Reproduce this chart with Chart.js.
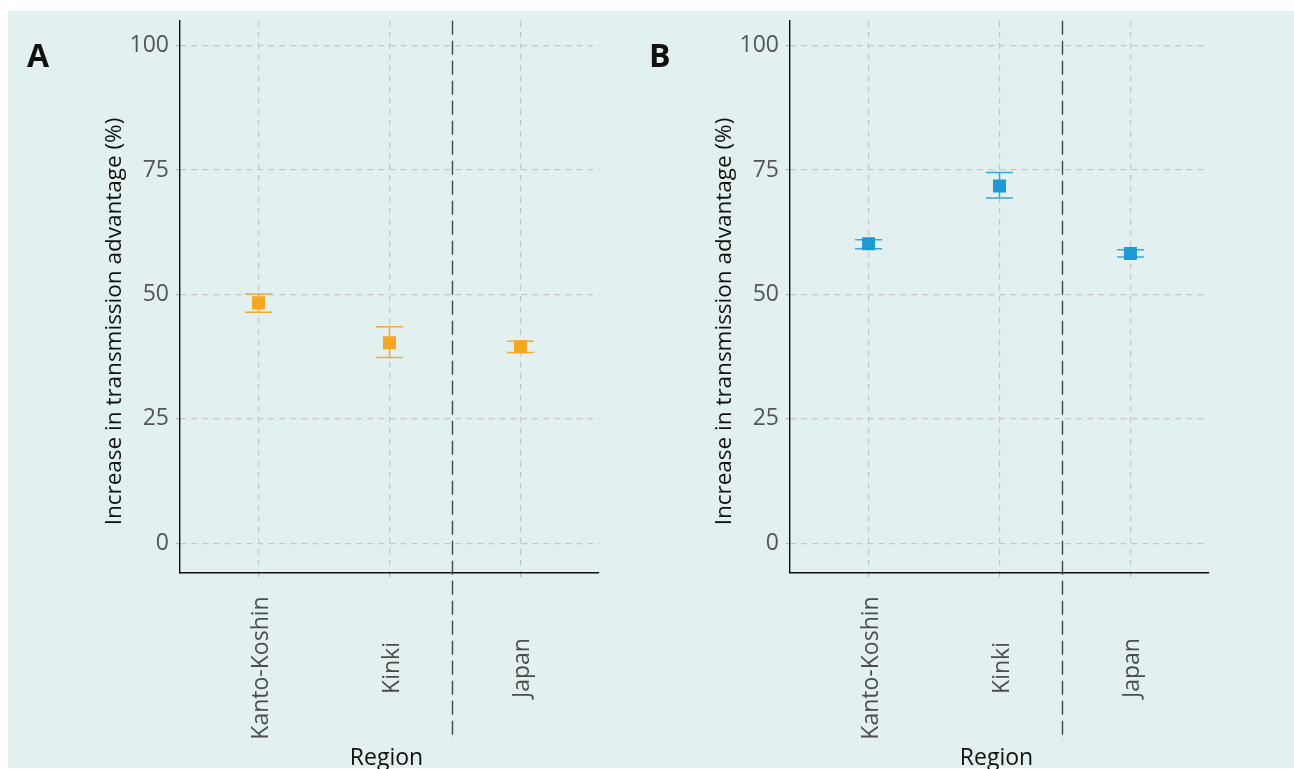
<!DOCTYPE html>
<html>
<head>
<meta charset="utf-8">
<script src="https://cdn.jsdelivr.net/npm/chart.js@4"></script>
<style>
    body { margin: 0; background: #fff; width: 1294px; height: 769px; position: relative; overflow: hidden; }
    #bg { position: absolute; left: 8px; top: 11px; width: 1286px; height: 757px; background: #e3f0f0; }
    .panel { position: absolute; top: 0; }
    #panelA { left: 0; }
    #panelB { left: 610px; }
</style>
</head>
<body>
<div id="bg"></div>
<canvas id="panelA" class="panel" width="610" height="769"></canvas>
<canvas id="panelB" class="panel" width="610" height="769"></canvas>
<script>
// Data
const regions = ['Kanto-Koshin', 'Kinki', 'Japan'];
const regionPos = [1, 2, 3];
const yTicks = [0, 25, 50, 75, 100];
const splitAt = 2.48; // dashed line between regions and whole country

// Panel A
const meanA = [48.3, 40.3, 39.5];
const lowA = [46.4, 37.3, 38.3];
const highA = [50.1, 43.5, 40.6];

// Panel B
const meanB = [60.2, 71.8, 58.2];
const lowB = [59.2, 69.4, 57.5];
const highB = [61.0, 74.5, 59.0];

const FONT = "'Open Sans', 'Noto Sans', sans-serif";

// error bars, separator line, rotated labels, titles
const panelExtras = {
    id: 'panelExtras',
    beforeDatasetsDraw(chart, args, opts) {
        const { ctx, scales: { x, y } } = chart;
        ctx.save();
        ctx.strokeStyle = opts.barColor;
        ctx.lineWidth = 1.5;
        opts.low.forEach((lo, i) => {
            const px = x.getPixelForValue(regionPos[i]);
            const y1 = y.getPixelForValue(lo);
            const y2 = y.getPixelForValue(opts.high[i]);
            ctx.beginPath();
            ctx.moveTo(px, y1); ctx.lineTo(px, y2);
            ctx.moveTo(px - 13.5, y1); ctx.lineTo(px + 13.5, y1);
            ctx.moveTo(px - 13.5, y2); ctx.lineTo(px + 13.5, y2);
            ctx.stroke();
        });
        ctx.restore();
    },
    afterDraw(chart, args, opts) {
        const { ctx, chartArea, scales: { x } } = chart;
        ctx.save();

        // separator
        const sx = Math.round(x.getPixelForValue(splitAt)) + 0.5;
        ctx.strokeStyle = '#444';
        ctx.lineWidth = 1.4;
        ctx.setLineDash([14, 6]);
        ctx.beginPath();
        ctx.moveTo(sx, chartArea.top);
        ctx.lineTo(sx, 741);
        ctx.stroke();
        ctx.setLineDash([]);

        // category labels
        ctx.fillStyle = '#4d4d4d';
        ctx.font = '23px ' + FONT;
        ctx.textAlign = 'center';
        ctx.textBaseline = 'alphabetic';
        regions.forEach((name, i) => {
            const px = x.getPixelForValue(regionPos[i]);
            ctx.save();
            ctx.translate(px + 9, 668);
            ctx.rotate(-Math.PI / 2);
            ctx.fillText(name, 0, 0);
            ctx.restore();
        });

        // axis titles
        ctx.fillStyle = '#111';
        ctx.font = '23px ' + FONT;
        ctx.fillText('Region', (chartArea.left + chartArea.right) / 2 - 3, 765);

        ctx.font = '22.5px ' + FONT;
        ctx.save();
        ctx.translate(121, 321.5);
        ctx.rotate(-Math.PI / 2);
        ctx.fillText('Increase in transmission advantage (%)', 0, 0);
        ctx.restore();

        // panel letter
        ctx.textAlign = 'left';
        ctx.font = 'bold 32px ' + FONT;
        ctx.fillText(opts.letter, opts.letterX, 67);

        ctx.restore();
    }
};

function makePanel(id, letter, letterX, means, lows, highs, color, barColor) {
    const gridOpts = {
        color: '#c6c6c6',
        lineWidth: 1.2,
        tickLength: 4,
        tickColor: '#b4b4b4',
        tickWidth: 1.2,
        tickBorderDash: []
    };
    const borderOpts = { color: '#111', width: 1.4, dash: [6, 5] };

    new Chart(document.getElementById(id), {
        type: 'scatter',
        data: {
            datasets: [{
                data: regionPos.map((p, i) => ({ x: p, y: means[i] })),
                pointStyle: 'rect',
                pointRadius: 9.2,
                pointHoverRadius: 9.2,
                backgroundColor: color,
                borderWidth: 0
            }]
        },
        options: {
            responsive: false,
            animation: false,
            layout: { padding: { top: 20, right: 11, left: 0, bottom: 0 } },
            plugins: {
                legend: { display: false },
                tooltip: { enabled: false },
                panelExtras: { letter, letterX, low: lows, high: highs, barColor }
            },
            scales: {
                x: {
                    type: 'linear',
                    min: 0.4,
                    max: 3.6,
                    afterBuildTicks: s => { s.ticks = regionPos.map(v => ({ value: v })); },
                    afterFit: s => { s.height = 196; },
                    ticks: { display: false },
                    grid: gridOpts,
                    border: borderOpts
                },
                y: {
                    min: -6,
                    max: 105,
                    afterBuildTicks: s => { s.ticks = yTicks.map(v => ({ value: v })); },
                    afterFit: s => { s.width = 180; },
                    ticks: {
                        color: '#555',
                        padding: 7,
                        font: { family: FONT, size: 23 }
                    },
                    grid: gridOpts,
                    border: borderOpts
                }
            }
        },
        plugins: [panelExtras]
    });
}

makePanel('panelA', 'A', 27, meanA, lowA, highA, '#f5a61f', '#f0a93a');
makePanel('panelB', 'B', 39, meanB, lowB, highB, '#1b9ad6', '#3aa5db');
</script>
</body>
</html>
